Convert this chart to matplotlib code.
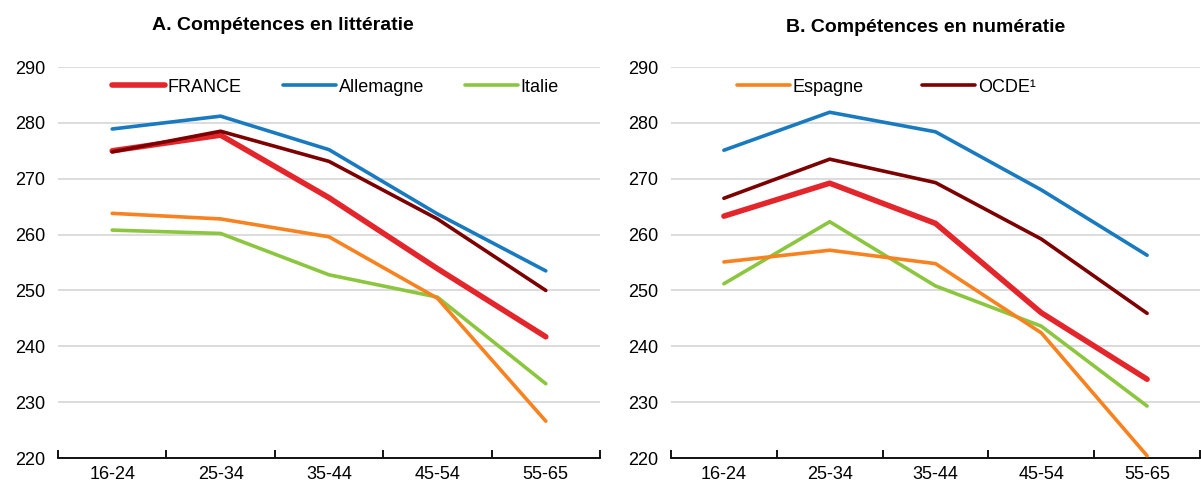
import numpy as np
import matplotlib
matplotlib.use("Agg")
import matplotlib.pyplot as plt

plt.rcParams['font.family'] = ['Liberation Sans', 'DejaVu Sans']

age_groups = ["16-24", "25-34", "35-44", "45-54", "55-65"]

# Panel A: littératie
lit_france = [275.0, 277.8, 266.6, 253.9, 241.7]
lit_allemagne = [278.9, 281.2, 275.2, 263.7, 253.5]
lit_italie = [260.8, 260.2, 252.8, 248.8, 233.3]
lit_espagne = [263.8, 262.8, 259.6, 248.6, 226.6]
lit_ocde = [274.8, 278.5, 273.1, 262.8, 250.0]

# Panel B: numératie
num_france = [263.3, 269.2, 262.0, 246.0, 234.1]
num_allemagne = [275.1, 281.9, 278.4, 268.0, 256.3]
num_italie = [251.2, 262.3, 250.8, 243.6, 229.3]
num_espagne = [255.1, 257.2, 254.8, 242.4, 220.4]
num_ocde = [266.5, 273.5, 269.3, 259.2, 245.9]

colors = {
    "FRANCE": "#e2262c",
    "Allemagne": "#1a7ac0",
    "Italie": "#8cc63f",
    "Espagne": "#f7821f",
    "OCDE¹": "#7d0000",
}

fig = plt.figure(figsize=(12.01, 4.86), dpi=100)
ax_a = fig.add_axes([58 / 1201, 1 - 458 / 486, 542 / 1201, 391 / 486])
ax_b = fig.add_axes([671 / 1201, 1 - 458 / 486, 529 / 1201, 391 / 486])


def draw_panel(ax, series):
    x = np.arange(len(age_groups))
    lines = {}
    for name, vals, lw, z in series:
        lines[name], = ax.plot(x, vals, color=colors[name], lw=lw, zorder=z,
                               solid_capstyle="round", solid_joinstyle="round")
    ax.set_xlim(-0.5, len(age_groups) - 0.5)
    ax.set_ylim(220, 290)
    ax.set_yticks(np.arange(220, 291, 10))
    ax.grid(axis="y", color="#d9d9d9", lw=1.3, zorder=0)
    ax.set_axisbelow(True)
    for s in ("left", "right", "top"):
        ax.spines[s].set_visible(False)
    ax.spines["bottom"].set_color("black")
    ax.spines["bottom"].set_linewidth(1.3)
    # ticks at category boundaries, labels at category centres
    ax.set_xticks(np.arange(len(age_groups) + 1) - 0.5)
    ax.set_xticklabels([])
    ax.set_xticks(x, minor=True)
    ax.set_xticklabels(age_groups, minor=True)
    ax.tick_params(axis="x", which="major", direction="in", length=6, width=1.3)
    ax.tick_params(axis="x", which="minor", length=0, pad=6, labelsize=13)
    ax.tick_params(axis="y", length=0, pad=9, labelsize=13)
    return lines


lines_a = draw_panel(ax_a, [
    ("Italie", lit_italie, 2.6, 3),
    ("Espagne", lit_espagne, 2.6, 4),
    ("FRANCE", lit_france, 4.0, 5),
    ("OCDE¹", lit_ocde, 2.6, 6),
    ("Allemagne", lit_allemagne, 2.6, 7),
])
lines_b = draw_panel(ax_b, [
    ("Italie", num_italie, 2.6, 3),
    ("Espagne", num_espagne, 2.6, 4),
    ("FRANCE", num_france, 4.0, 5),
    ("OCDE¹", num_ocde, 2.6, 6),
    ("Allemagne", num_allemagne, 2.6, 7),
])

leg_kw = dict(loc="center left", frameon=False, fontsize=13, handlelength=2.95,
              handletextpad=0.15, borderpad=0, borderaxespad=0)
ax_a.legend([lines_a[k] for k in ("FRANCE", "Allemagne", "Italie")],
            ["FRANCE", "Allemagne", "Italie"], ncol=3, columnspacing=2.25,
            bbox_to_anchor=(54 / 542, (458 - 87) / 391), **leg_kw)
ax_b.legend([lines_b[k] for k in ("Espagne", "OCDE¹")],
            ["Espagne", "OCDE¹"], ncol=2, columnspacing=3.2,
            bbox_to_anchor=(66 / 529, (458 - 87) / 391), **leg_kw)

fig.text(283 / 1201, 1 - 25 / 486, "A. Compétences en littératie", ha="center",
         va="center", fontsize=14, fontweight="bold")
fig.text(926 / 1201, 1 - 28 / 486, "B. Compétences en numératie", ha="center",
         va="center", fontsize=14, fontweight="bold")

fig.savefig("out.png", dpi=100)
